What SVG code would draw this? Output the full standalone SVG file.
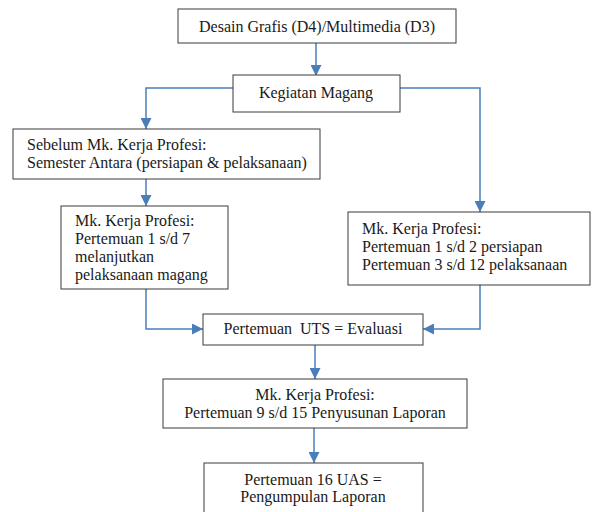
<svg xmlns="http://www.w3.org/2000/svg" width="592" height="512" viewBox="0 0 592 512">
<defs>
<style>
.box{fill:#fff;stroke:#3a3a3a;stroke-width:1}
.t{font-family:"Liberation Serif","Times New Roman","DejaVu Serif",serif;font-size:16px;fill:#1a1a1a}
.c{text-anchor:middle}
.ln{fill:none;stroke:#4a7ebb;stroke-width:1.5;marker-end:url(#ah)}
</style>
<marker id="ah" viewBox="0 0 10 10" refX="10" refY="5" markerWidth="11" markerHeight="11" markerUnits="userSpaceOnUse" orient="auto">
<path d="M0,0 L10,5 L0,10 Z" fill="#4a7ebb"/>
</marker>
</defs>
<g id="connectors">
<path class="ln" d="M316,43 V76"/>
<path class="ln" d="M233,88 H146 V129"/>
<path class="ln" d="M400,88 H480 V212"/>
<path class="ln" d="M146,179 V206"/>
<path class="ln" d="M146,289 V329 H203"/>
<path class="ln" d="M480,285 V329 H423"/>
<path class="ln" d="M315,345 V379"/>
<path class="ln" d="M314,428 V463"/>
</g>
<g id="n1"><rect class="box" x="178" y="9" width="278" height="34"/><text class="t c" x="317" y="32">Desain Grafis (D4)/Multimedia (D3)</text></g>
<g id="n2"><rect class="box" x="233" y="75" width="167" height="37"/><text class="t c" x="316" y="98">Kegiatan Magang</text></g>
<g id="n3"><rect class="box" x="13" y="129" width="307" height="50"/><text class="t" x="27" y="150">Sebelum Mk. Kerja Profesi:</text><text class="t" x="27" y="168">Semester Antara (persiapan &amp; pelaksanaan)</text></g>
<g id="n4"><rect class="box" x="61" y="206" width="167" height="83"/><text class="t" x="75" y="226">Mk. Kerja Profesi:</text><text class="t" x="75" y="244">Pertemuan 1 s/d 7</text><text class="t" x="75" y="262">melanjutkan</text><text class="t" x="75" y="280">pelaksanaan magang</text></g>
<g id="n5"><rect class="box" x="348" y="212" width="242" height="73"/><text class="t" x="362" y="234">Mk. Kerja Profesi:</text><text class="t" x="362" y="252">Pertemuan 1 s/d 2 persiapan</text><text class="t" x="362" y="270">Pertemuan 3 s/d 12 pelaksanaan</text></g>
<g id="n6"><rect class="box" x="203" y="314" width="220" height="31"/><text class="t c" x="313" y="334" xml:space="preserve">Pertemuan  UTS = Evaluasi</text></g>
<g id="n7"><rect class="box" x="163" y="379" width="304" height="49"/><text class="t c" x="315" y="400">Mk. Kerja Profesi:</text><text class="t c" x="315" y="418">Pertemuan 9 s/d 15 Penyusunan Laporan</text></g>
<g id="n8"><rect class="box" x="204" y="463" width="219" height="60"/><text class="t c" x="313" y="485">Pertemuan 16 UAS =</text><text class="t c" x="313" y="502">Pengumpulan Laporan</text></g>
</svg>
